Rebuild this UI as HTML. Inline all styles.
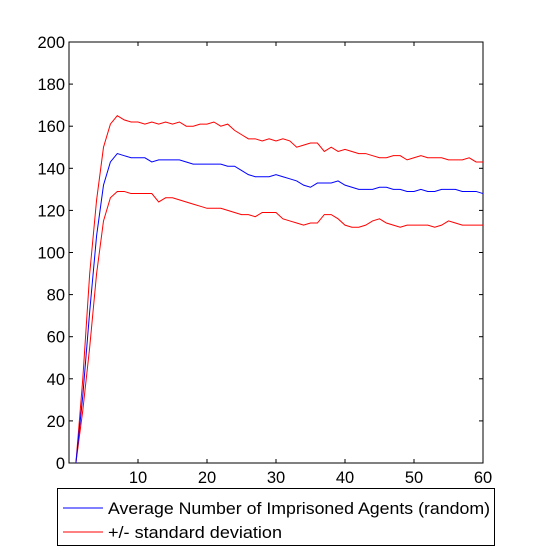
<!DOCTYPE html>
<html><head><meta charset="utf-8"><style>
body{margin:0;background:#fff}
svg{display:block;font-family:"Liberation Sans",Arial,sans-serif}
</style></head><body>
<svg id="c" width="533" height="558"></svg>
<script>
const xs=[];for(let i=1;i<=60;i++)xs.push(i);
const meanVals=[0,32,72,108,132,143,147,146,145,145,145,143,144,144,144,144,143,142,142,142,142,142,141,141,139,137,136,136,136,137,136,135,134,132,131,133,133,133,134,132,131,130,130,130,131,131,130,130,129,129,130,129,129,130,130,130,129,129,129,128];
const upperVals=[0,40,90,125,150,161,165,163,162,162,161,162,161,162,161,162,160,160,161,161,162,160,161,158,156,154,154,153,154,153,154,153,150,151,152,152,148,150,148,149,148,147,147,146,145,145,146,146,144,145,146,145,145,145,144,144,144,145,143,143];
const lowerVals=[0,25,55,90,115,126,129,129,128,128,128,128,124,126,126,125,124,123,122,121,121,121,120,119,118,118,117,119,119,119,116,115,114,113,114,114,118,118,116,113,112,112,113,115,116,114,113,112,113,113,113,113,112,113,115,114,113,113,113,113];
const xTicks=[10,20,30,40,50,60];
const yTicks=[0,20,40,60,80,100,120,140,160,180,200];
const L=69,R=483,T=42,B=463;
const X=v=>L+(v/60)*(R-L), Y=v=>B-(v/200)*(B-T);
const svg=document.getElementById('c');const NS='http://www.w3.org/2000/svg';
function mk(t,a){const e=document.createElementNS(NS,t);for(const k in a)e.setAttribute(k,a[k]);svg.appendChild(e);return e;}
let e=mk('rect',{x:L,y:T,width:R-L,height:B-T,fill:'none',stroke:'#000','stroke-width':1});


xTicks.forEach(v=>{const x=X(v);
 let t=mk('line',{x1:x,x2:x,y1:B,y2:B-4,stroke:'#000'});
 t=mk('line',{x1:x,x2:x,y1:T,y2:T+4,stroke:'#000'});
 const l=mk('text',{x:x,y:B+20,'text-anchor':'middle','font-size':16.5});l.textContent=v;
 
 });
yTicks.forEach(v=>{const y=Y(v);
 let t=mk('line',{x1:L,x2:L+4,y1:y,y2:y,stroke:'#000'});
 t=mk('line',{x1:R,x2:R-4,y1:y,y2:y,stroke:'#000'});
 const l=mk('text',{x:L-4,y:y+6,'text-anchor':'end','font-size':16.5});l.textContent=v;
 
 });
function line(vals,col,name){const p=mk('polyline',{points:vals.map((v,i)=>X(xs[i])+','+Y(v)).join(' '),fill:'none',stroke:col,'stroke-width':1});
 
 }
line(upperVals,'#ff0000','upper-std-line');
line(lowerVals,'#ff0000','lower-std-line');
line(meanVals,'#0000ff','mean-line');
const g=mk('rect',{x:57.5,y:488.5,width:437,height:57,fill:'#fff',stroke:'#000'});


[['#0000ff','Average Number of Imprisoned Agents (random)',508,'legend-entry-mean',382],['#ff0000','+/- standard deviation',532,'legend-entry-std',174]].forEach(([c,t,y,n,w])=>{
 const ln=mk('line',{x1:63,x2:103,y1:y,y2:y,stroke:c});
 const tx=mk('text',{x:108,y:y+6,'font-size':17,textLength:w,lengthAdjust:'spacingAndGlyphs'});tx.textContent=t;
 
 });
</script>
</body></html>
